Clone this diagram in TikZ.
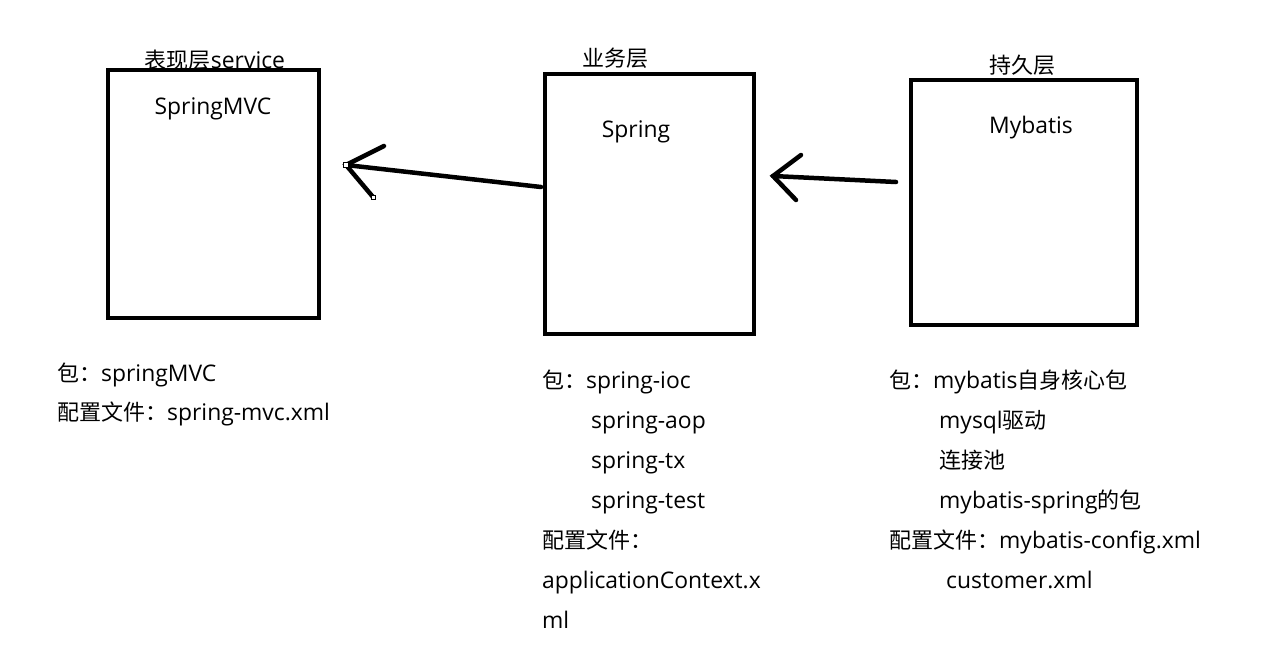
\documentclass[tikz,border=0pt]{standalone}
\usepackage{fontspec}
\setmainfont{Open Sans}[Scale=1.04]
\newfontfamily\cjk{Noto Sans CJK SC}
\begin{document}
\begin{tikzpicture}[x=1pt,y=-1pt,
  layer/.style={draw=black,line width=4pt,fill=none},
  txt/.style={inner sep=0pt,anchor=base west,font=\fontsize{22}{26}\selectfont},
  ctxt/.style={inner sep=0pt,anchor=base,font=\fontsize{22}{26}\selectfont},
  arr/.style={line width=4.5pt,line cap=round}]
\useasboundingbox[fill=white] (0,0) rectangle (1267,659);
% boxes
\draw[layer] (108,70) rectangle (319,318);
\draw[layer] (545,74) rectangle (754,334);
\draw[layer] (911,80) rectangle (1137,325);
% titles
\node[ctxt] (t1) at (215,68) {{\cjk 表现层}service};
\node[ctxt] (t2) at (615,66) {\cjk 业务层};
\node[ctxt] (t3) at (1022,73) {\cjk 持久层};
\node[ctxt] (l1) at (213,114) {SpringMVC};
\node[ctxt] (l2) at (636,137) {Spring};
\node[ctxt] (l3) at (1031,133) {Mybatis};
% arrows
\coordinate (a1s) at (541,187);
\coordinate (a1e) at (346,165);
\coordinate (a1u) at (384,146);
\coordinate (a1d) at (373,197);
\draw[arr] (a1s) -- (a1e);
\draw[arr] (a1u) -- (a1e) -- (a1d);
\draw[line width=0.6pt,fill=white] (343.5,162.5) rectangle (348.5,167.5);
\draw[line width=0.6pt,fill=white] (371,195) rectangle (375.5,199.5);
\coordinate (a2s) at (896,182);
\coordinate (a2e) at (773,176);
\coordinate (a2u) at (801,155);
\coordinate (a2d) at (796,200);
\draw[arr] (a2s) -- (a2e);
\draw[arr] (a2u) -- (a2e) -- (a2d);
% left text
\node[txt] (p1a) at (57,381) {{\cjk 包：}springMVC};
\node[txt] (p1b) at (57,420) {{\cjk 配置文件：}spring-mvc.xml};
% middle text
\node[txt] (p2a) at (542,388) {{\cjk 包：}spring-ioc};
\node[txt] (p2b) at (591,428) {spring-aop};
\node[txt] (p2c) at (591,468) {spring-tx};
\node[txt] (p2d) at (591,508) {spring-test};
\node[txt] (p2e) at (542,548) {\cjk 配置文件：};
\node[txt] (p2f) at (542,588) {applicationContext.x};
\node[txt] (p2g) at (542,628) {ml};
% right text
\node[txt] (p3a) at (889,388) {{\cjk 包：}mybatis{\cjk 自身核心包}};
\node[txt] (p3b) at (939,428) {mysql{\cjk 驱动}};
\node[txt] (p3c) at (939,468) {\cjk 连接池};
\node[txt] (p3d) at (939,508) {mybatis-spring{\cjk 的包}};
\node[txt] (p3e) at (889,548) {{\cjk 配置文件：}mybatis-config.xml};
\node[txt] (p3f) at (946,588) {customer.xml};
\end{tikzpicture}
\end{document}
